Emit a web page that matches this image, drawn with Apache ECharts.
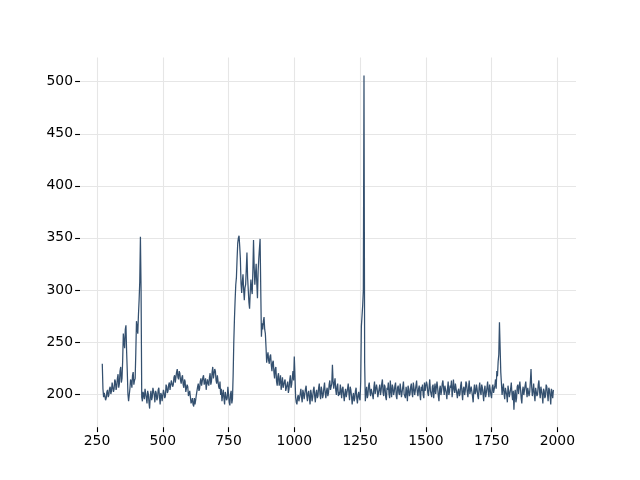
<!DOCTYPE html>
<html>
<head>
<meta charset="utf-8">
<script src="https://cdn.jsdelivr.net/npm/echarts@6/dist/echarts.min.js"></script>
<style>
html,body{margin:0;padding:0;background:#fff;}
#chart{width:640px;height:480px;}
</style>
</head>
<body>
<div id="chart"></div>
<script>
// Sampling grid of the spectrum: samples every 5 units from 270, plus readings halfway between them
const X_START = 270;
const X_STEP = 5;
// Intensity at x = 270, 275, 280, ... (rows of 10 = 50 units)
const intensity = [
  229,197,198,196,204,199,207,203,210,205,
  212,207,219,210,226,215,258,244,266,222,
  193,205,212,218,209,215,270,258,290,351,
  197,202,195,204,191,200,186,203,197,205,
  192,201,196,206,190,199,194,201,198,207,
  203,211,205,214,209,218,212,224,214,220,
  210,218,206,212,203,207,199,197,193,190,
  196,194,203,210,205,215,209,218,212,204,
  214,208,220,212,226,214,222,210,219,205,
  199,193,204,190,201,196,206,189,203,195,
  250,290,312,345,352,330,297,315,290,305,
  336,300,282,310,296,348,305,325,292,330,
  349,255,262,274,258,230,240,229,238,222,
  232,215,226,208,220,212,204,216,207,214,
  202,212,205,218,209,222,236,197,190,199,
  194,205,192,201,196,208,193,203,190,200,
  197,207,192,204,198,210,195,203,199,211,
  196,206,201,213,203,228,205,215,199,210,
  202,209,196,207,193,205,198,210,194,204,
  190,201,196,206,191,202,194,265,285,506,
  193,207,199,211,198,206,195,212,201,205,
  196,209,203,214,198,207,194,204,200,213,
  197,206,202,211,195,208,199,204,196,212,
  201,207,193,205,200,210,197,206,203,213,
  198,208,194,203,199,211,204,209,198,214,
  202,207,196,210,201,206,193,208,203,213,
  199,207,195,212,202,206,197,214,201,209,
  196,205,200,212,194,207,203,210,197,213,
  199,206,192,209,202,205,195,211,199,206,
  193,208,201,212,197,204,196,209,200,214,
  222,231,269,221,199,210,195,207,192,203,
  198,211,194,185,204,196,209,199,205,191,
  207,200,212,197,206,202,224,198,210,193,
  205,200,213,196,208,191,203,198,207,193,
  204,190,201,204
];
// Intensity at the half-way readings x = 272.5, 277.5, 282.5, ...
const intensityMid = [
  205,201,194,202,197,205,200,211,202,214,
  204,215,206,222,211,232,250,262,241,200,
  199,214,206,221,213,240,264,276,308,300,
  193,199,205,196,203,192,198,194,206,199,
  203,194,204,197,201,193,204,196,209,201,
  209,204,213,207,216,211,221,216,222,213,
  216,209,214,202,209,198,203,191,196,188,
  190,199,207,203,212,208,216,209,215,210,
  210,216,209,221,215,224,213,218,207,212,
  205,199,196,202,194,207,192,200,191,218,
  272,305,330,350,342,306,308,300,302,320,
  312,288,298,301,318,322,315,306,318,340,
  300,268,270,262,245,236,232,236,228,230,
  221,224,212,217,208,218,210,206,212,203,
  209,201,213,206,216,213,218,192,197,193,
  200,197,204,195,205,198,201,196,204,193,
  204,198,201,196,206,200,207,196,206,201,
  203,198,209,204,210,212,211,204,207,198,
  199,203,205,199,201,197,205,201,207,198,
  197,193,203,196,199,196,212,275,300,230,
  201,196,208,202,205,199,206,200,209,197,
  205,199,210,201,209,197,206,211,196,203,
  209,199,208,198,206,201,210,197,207,200,
  196,202,208,198,207,201,211,199,208,202,
  205,200,207,209,196,203,212,201,207,203,
  197,209,204,200,212,198,205,199,210,205,
  208,201,205,199,208,213,204,205,210,201,
  203,198,208,201,205,199,212,202,206,200,
  207,198,203,200,209,198,206,202,209,200,
  204,197,206,202,209,199,206,201,208,205,
  217,238,245,210,205,200,206,199,208,197,
  205,200,203,199,192,207,200,212,196,203,
  199,208,203,206,198,212,207,203,199,206,
  198,209,202,207,199,205,196,209,200,206,
  198,205,196
];
const xTicks = [250, 500, 750, 1000, 1250, 1500, 1750, 2000];
const yTicks = [200, 250, 300, 350, 400, 450, 500];

const seriesData = [];
intensity.forEach((v, i) => {
  const x = X_START + i * X_STEP;
  seriesData.push([x, v]);
  if (i < intensityMid.length) seriesData.push([x + X_STEP / 2, intensityMid[i]]);
});

const chart = echarts.init(document.getElementById('chart'), null, {renderer: 'canvas'});
const font = 'DejaVu Sans';
const gridColor = '#e6e6e6';
const plain = (v) => String(v);
chart.setOption({
  animation: false,
  backgroundColor: '#ffffff',
  grid: {left: 80, right: 64, top: 57.6, bottom: 52.8, containLabel: false},
  xAxis: {
    type: 'value',
    min: 185.3, max: 2071,
    axisLine: {show: false},
    axisTick: {show: true, customValues: xTicks, length: 4.9, lineStyle: {color: '#000', width: 1.1}},
    axisLabel: {customValues: xTicks, formatter: plain, color: '#000', fontFamily: font, fontSize: 13.9, margin: 7},
    splitLine: {show: true, lineStyle: {color: gridColor, width: 1.1}}
  },
  yAxis: {
    type: 'value',
    min: 168.1, max: 523.2,
    axisLine: {show: false},
    axisTick: {show: true, customValues: yTicks, length: 4.9, lineStyle: {color: '#000', width: 1.1}},
    axisLabel: {customValues: yTicks, formatter: plain, color: '#000', fontFamily: font, fontSize: 13.9, margin: 7},
    splitLine: {show: true, lineStyle: {color: gridColor, width: 1.1}}
  },
  series: [{
    type: 'line',
    data: seriesData,
    showSymbol: false,
    symbol: 'none',
    lineStyle: {color: '#34506f', width: 1.25},
    z: 3
  }]
});
</script>
</body>
</html>
